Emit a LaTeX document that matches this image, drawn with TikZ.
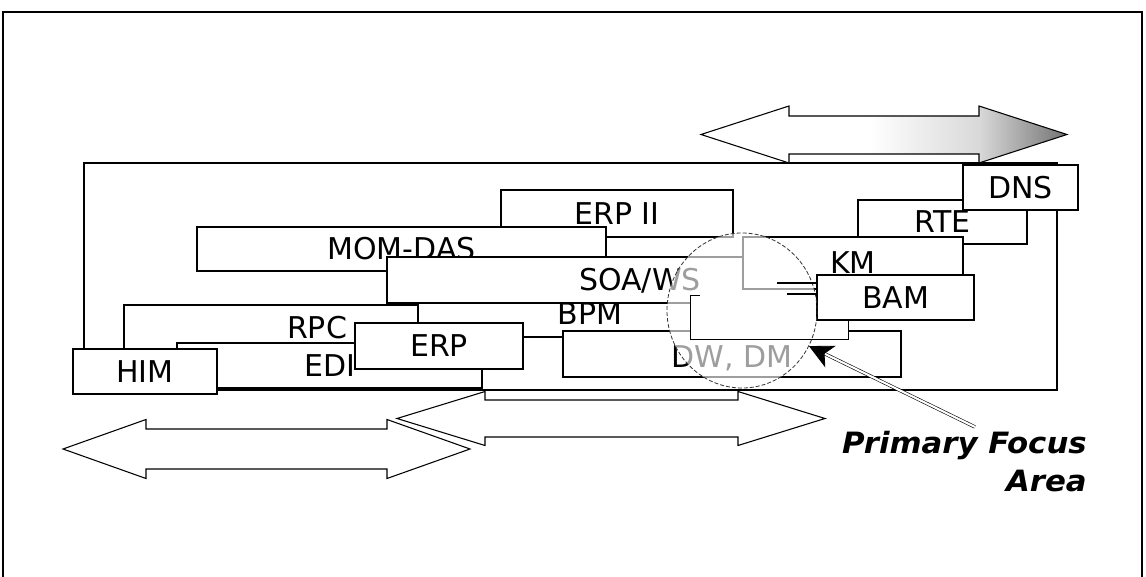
\documentclass[tikz,border=0pt]{standalone}
\usepackage{fontspec}
\usetikzlibrary{arrows.meta,shapes.geometric,calc}
\newfontfamily\boxfont{DejaVu Sans}
\newfontfamily\focusfont[FakeStretch=1.05,BoldItalicFont={DejaVu Sans Bold Oblique}]{DejaVu Sans}
\pgfdeclarehorizontalshading{arrowshade}{100bp}{color(0bp)=(white); color(48bp)=(white); color(63bp)=(black!15); color(75bp)=(black!55); color(100bp)=(black!55)}
\begin{document}
\begin{tikzpicture}[x=0.75pt,y=-0.75pt,
  frameline/.style={line width=1.8pt},
  thinline/.style={line width=0.9pt},
  arrowline/.style={line width=0.8pt},
  box/.style={draw, fill=white, line width=0.9pt, inner sep=0pt,
    font=\boxfont\fontsize{22.5}{27}\selectfont, text height=16.4pt, text depth=0pt},
  bx/.style 2 args={minimum width=#1*0.75pt, minimum height=#2*0.75pt},
  circ/.style={line width=0.6pt, black!80, dash pattern=on 3pt off 1.5pt},
  focusline/.style={line width=0.45pt, double distance=1.6pt},
  focushead/.style={line width=0.6pt, -{Stealth[length=18pt,width=18pt,inset=5pt]}},
  focustext/.style={inner sep=0pt, font=\focusfont\bfseries\itshape\fontsize{22}{28}\selectfont}]
\useasboundingbox (0,0) rectangle (1146,577);
% outer frame
\draw[frameline] (3,577) -- (3,12) -- (1142,12) -- (1142,577);
% large background rectangle
\draw[thinline] (84,163) rectangle (1057,390);
% top double arrow
\shadedraw[shading=arrowshade, arrowline] (701,134.5) -- (789,106) -- (789,116) -- (979,116) -- (979,106) -- (1067,134.5) -- (979,163) -- (979,154) -- (789,154) -- (789,163) -- cycle;
% boxes
\node[box,bx={232}{47}] (erp2) at (617,213.5) {ERP II};
\node[box,bx={409}{44}] (momdas) at (401.5,249) {MOM-DAS};
\node[box,bx={169}{44}] (rte) at (942.5,222) {RTE};
\node[box,bx={115}{45}] (dns) at (1020.5,187.5) {DNS};
\node[box,bx={506}{46}] (soa) at (640,280) {SOA/WS};
\node[box,bx={220}{52}] (km) at (853,263) {KM};
\node[box,bx={386}{46}] (rpc) at (317,328) {RPC};
\node[box,bx={344}{34},text depth=9pt] (bpm) at (590,320) {BPM};
\node[box,bx={305}{45}] (edi) at (329.5,365.5) {EDI};
\node[box,bx={168}{46}] (erp) at (439,346) {ERP};
\node[box,bx={144}{45}] (him) at (145,371.5) {HIM};
\node[box,bx={338}{46},text height=20.9pt] (dw) at (732,354) {DW, DM};
% focus area
\node[ellipse, fill=white, fill opacity=0.62, inner sep=0pt, minimum width=112.5pt, minimum height=116.25pt] (focusarea) at (742,310.5) {};
\node[fill=white, inner sep=0pt, bx={157}{43}] (inner) at (769.5,317.5) {};
\draw[thinline] ($(inner.north west)+(9,0)$) -- (inner.north west) -- (inner.south west) -- (inner.south east) -- (inner.north east);
\node[box,bx={157}{45}] (bam) at (895.5,297.5) {BAM};
\draw[circ] (focusarea.center) ellipse [x radius=75, y radius=77.5];
\draw[thinline] (777,283) -- (bam.west |- 0,283);
\draw[thinline] (787,294) -- (bam.west |- 0,294);
% bottom double arrows
\draw[arrowline] (63,449) -- (146,419.5) -- (146,429) -- (387,429) -- (387,419.5) -- (470,449) -- (387,478.5) -- (387,469) -- (146,469) -- (146,478.5) -- cycle;
\draw[arrowline] (397,418.5) -- (485,391.5) -- (485,400) -- (738,400) -- (738,391.5) -- (825,418.5) -- (738,445.5) -- (738,437) -- (485,437) -- (485,445.5) -- cycle;
% primary focus label and pointer
\node[focustext, anchor=base east] (focus1) at (1087,453) {Primary Focus};
\node[focustext, anchor=base east] (focus2) at (1087,491) {Area};
\coordinate (focustail) at (975,427);
\draw[focusline] (focustail) -- ($(focusarea.-28)!12pt!(focustail)$);
\draw[focushead] ($(focusarea.-28)!8pt!(focustail)$) -- (focusarea.-28);
\end{tikzpicture}
\end{document}
